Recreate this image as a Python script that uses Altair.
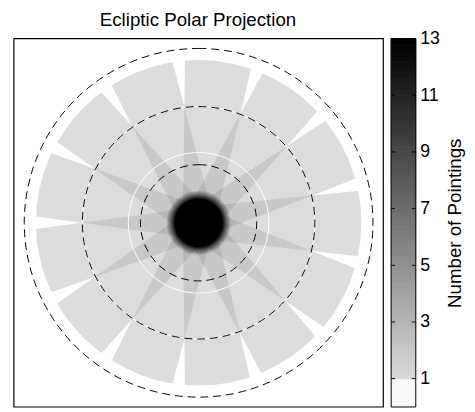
import math
import altair as alt
import numpy as np
import pandas as pd

# ---------------- values ----------------
title_text = "Ecliptic Polar Projection"
cbar_title = "Number of Pointings"
# angles (deg, clockwise from top) where the edges of neighbouring fields cross
cross_angles = [353.0, 21.0, 49.0, 76.5, 104.0, 132.0, 159.5, 187.0,
                214.5, 242.5, 270.0, 297.5, 325.5]
cross_radius = 20.1          # deg from the pole (on the 20 deg circle)
edge_opening = 15.5          # deg, opening angle between crossing edges
field_outer_radius = 28.0    # outer edge of the fields
gap_outer_radius = 29.0
dashed_radii = [10, 20, 30]
white_radii = [12.1, 20.0]
core_radius = 4.15
halo_radius = 5.6
tick_values = [1, 3, 5, 7, 9, 11, 13]
count_max = 13

# ---------------- geometry / style ----------------
FONT = "Liberation Sans"
W, H = 375, 374
CB_W = 25
PX = 5.9                      # pixels per degree
R_VIEW = (W / 2) / PX

theta_scale = alt.Scale(domain=[0, 360], range=[0, math.tau])
radius_scale = alt.Scale(type="linear", domain=[0, R_VIEW], range=[0, W / 2], zero=True)
color_scale = alt.Scale(type="linear", domain=[0, 0.999, 1, count_max],
                        range=["#f9f9f9", "#f9f9f9", "#dcdcdc", "#000000"],
                        interpolate="rgb", clamp=True)
proj = dict(type="identity", reflectY=True, scale=PX, translate=[W / 2, H / 2])


def circles(radii, counts=None):
    d = {"t0": [0] * len(radii), "t1": [360] * len(radii), "r": radii}
    if counts is not None:
        d["count"] = counts
    return pd.DataFrame(d)


def arc_enc(chart, with_color=False):
    enc = dict(
        theta=alt.Theta("t0:Q", scale=theta_scale, stack=False),
        theta2=alt.Theta2("t1"),
        radius=alt.Radius("r:Q", scale=radius_scale),
    )
    if with_color:
        enc["color"] = alt.Color("count:Q", scale=color_scale, legend=None)
    return chart.encode(**enc)


def unit(a):
    return (math.sin(math.radians(a)), math.cos(math.radians(a)))


half = edge_opening / 2
gap_features, arm_features = [], []
for phi in cross_angles:
    ux, uy = unit(phi)
    tx, ty = cross_radius * ux, cross_radius * uy
    lg = (gap_outer_radius - cross_radius) / math.cos(math.radians(half))
    la = cross_radius / math.cos(math.radians(half))
    g = [[tx, ty]]
    for a in (phi - half, phi + half):
        vx, vy = unit(a)
        g.append([tx + lg * vx, ty + lg * vy])
    g.append([tx, ty])
    m = [[tx, ty]]
    for a in (phi + 180 - half, phi + 180 + half):
        vx, vy = unit(a)
        m.append([tx + la * vx, ty + la * vy])
    m.append([tx, ty])
    gap_features.append({"type": "Feature", "properties": {"angle": phi},
                         "geometry": {"type": "Polygon", "coordinates": [g]}})
    arm_features.append({"type": "Feature", "properties": {"angle": phi},
                         "geometry": {"type": "Polygon", "coordinates": [m]}})

one = pd.DataFrame({"k": [0]})

disc = arc_enc(alt.Chart(circles([field_outer_radius], [1])).mark_arc(strokeWidth=0), True)
arms = alt.Chart(alt.Data(values=arm_features)).mark_geoshape(
    fill="black", fillOpacity=0.09, strokeWidth=0).project(**proj)
gaps = alt.Chart(alt.Data(values=gap_features)).mark_geoshape(
    fill="white", fillOpacity=1, strokeWidth=0).project(**proj)
white_rings = arc_enc(alt.Chart(circles(white_radii)).mark_arc(
    filled=False, stroke="white", strokeWidth=1))
halo_fill = alt.Gradient(
    gradient="radial", x1=0.5, y1=0.5, x2=0.5, y2=0.5, r1=0, r2=0.5,
    stops=[alt.GradientStop(color="rgba(0,0,0,1)", offset=0),
           alt.GradientStop(color="rgba(0,0,0,1)", offset=0.72),
           alt.GradientStop(color="rgba(0,0,0,0.55)", offset=0.84),
           alt.GradientStop(color="rgba(0,0,0,0)", offset=1)])
halo = arc_enc(alt.Chart(circles([halo_radius])).mark_arc(fill=halo_fill, strokeWidth=0))
core = arc_enc(alt.Chart(circles([core_radius], [count_max])).mark_arc(strokeWidth=0), True)
dashed = arc_enc(alt.Chart(circles(dashed_radii)).mark_arc(
    filled=False, stroke="black", strokeWidth=1, strokeDash=[8, 5]))
frame = alt.Chart(one).mark_rect(filled=False, stroke="black", strokeWidth=1.2).encode(
    x=alt.value(0), x2=alt.value(W), y=alt.value(0), y2=alt.value(H))

main = alt.layer(disc, arms, gaps, white_rings, halo, core, dashed, frame).properties(
    width=W, height=H)

# ---------------- colour bar ----------------
lows = [0.0] + [round(1.0 + 0.2 * i, 2) for i in range(60)]
highs = [1.0] + [round(l + 0.2, 2) for l in lows[1:]]
vals = [0.0] + highs[1:]
bands = pd.DataFrame({"lo": lows, "hi": highs, "count": vals})
ticks = pd.DataFrame({"v": tick_values})

y_scale = alt.Scale(domain=[0, count_max], nice=False, zero=True)
cbar_axis = alt.Axis(orient="right", values=tick_values, ticks=False, domain=False, grid=False,
                     labelFontSize=18, labelFont=FONT, labelPadding=4, labelColor="black",
                     title=cbar_title, titleFontSize=19, titleFont=FONT, titleFontWeight="normal",
                     titleColor="black", titleAngle=270, titleBaseline="top", titlePadding=6)

cbar_rect = alt.Chart(bands).mark_rect(strokeWidth=0.8).encode(
    y=alt.Y("lo:Q", scale=y_scale, axis=cbar_axis),
    y2=alt.Y2("hi"),
    x=alt.value(0), x2=alt.value(CB_W),
    color=alt.Color("count:Q", scale=color_scale, legend=None),
    stroke=alt.Stroke("count:Q", scale=color_scale, legend=None),
)
tick_l = alt.Chart(ticks).mark_rule(color="black", strokeWidth=1).encode(
    y=alt.Y("v:Q", scale=y_scale, axis=cbar_axis), x=alt.value(0), x2=alt.value(4))
tick_r = alt.Chart(ticks).mark_rule(color="black", strokeWidth=1).encode(
    y=alt.Y("v:Q", scale=y_scale, axis=cbar_axis), x=alt.value(CB_W - 4), x2=alt.value(CB_W))
cbar_frame = alt.Chart(one).mark_rect(filled=False, stroke="black", strokeWidth=1).encode(
    x=alt.value(0), x2=alt.value(CB_W), y=alt.value(0), y2=alt.value(H))
cbar = alt.layer(cbar_rect, tick_l, tick_r, cbar_frame).properties(width=CB_W, height=H)

chart = alt.hconcat(main, cbar, spacing=6).properties(
    title=alt.Title(title_text, anchor="start", align="center", dx=W / 2, offset=0,
                    fontSize=19, font=FONT, fontWeight="normal", color="black"),
    padding={"left": 5, "top": 0, "right": 2, "bottom": 0},
).configure_view(strokeWidth=0)

chart.save("out.html", embed_options={"renderer": "svg", "actions": False})
